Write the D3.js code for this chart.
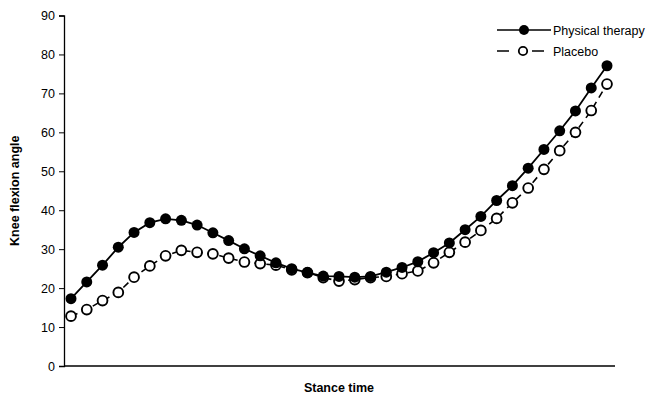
<!DOCTYPE html>
<html>
<head>
<meta charset="utf-8">
<script src="https://cdn.jsdelivr.net/npm/d3@7"></script>
<style>
  html, body { margin: 0; padding: 0; background: #fff; }
  svg { display: block; font-family: "Liberation Sans", Arial, sans-serif; }
</style>
</head>
<body>
<svg id="chart" width="649" height="396"></svg>
<script>
// ---- data ----
const stanceIndex = d3.range(35);
const physicalTherapy = [17.3, 21.6, 25.9, 30.5, 34.3, 36.8, 37.8, 37.4, 36.2, 34.2,
  32.2, 30.1, 28.3, 26.5, 25.0, 24.0, 23.1, 23.0, 22.8, 23.0,
  24.1, 25.3, 26.8, 29.1, 31.6, 35.0, 38.4, 42.5, 46.3, 50.8,
  55.6, 60.4, 65.5, 71.4, 77.1];
const placebo = [12.8, 14.5, 16.8, 18.9, 22.8, 25.7, 28.3, 29.7, 29.2, 28.8,
  27.7, 26.7, 26.3, 25.9, 24.7, 24.0, 22.7, 21.8, 22.2, 22.7,
  23.0, 23.7, 24.4, 26.5, 29.2, 31.8, 34.8, 37.9, 41.9, 45.7,
  50.5, 55.3, 60.0, 65.6, 72.4];
const yTicks = [0, 10, 20, 30, 40, 50, 60, 70, 80, 90];
const seriesNames = ["Physical therapy", "Placebo"];
const xTitle = "Stance time";
const yTitle = "Knee flexion angle";

// ---- layout ----
const svg = d3.select("#chart");
const axisLeftX = 64, axisRightX = 615, axisBottomY = 366, axisTopY = 15.5;

const x = d3.scaleLinear().domain([0, 34]).range([71, 607]);
const y = d3.scaleLinear().domain([0, 90]).range([axisBottomY, axisTopY]);

// y axis
const yAxis = svg.append("g")
  .attr("transform", `translate(${axisLeftX},0)`)
  .call(d3.axisLeft(y).tickValues(yTicks).tickSize(5).tickPadding(4).tickFormat(d3.format("d")));
yAxis.select(".domain").attr("stroke", "#000").attr("stroke-width", 1.3);
yAxis.selectAll(".tick line").attr("stroke", "#000").attr("stroke-width", 1);
yAxis.selectAll(".tick text").attr("fill", "#000").attr("font-size", 12.5)
  .attr("font-family", "Liberation Sans, Arial, sans-serif");

// x axis line
svg.append("line")
  .attr("x1", axisLeftX).attr("x2", axisRightX)
  .attr("y1", axisBottomY).attr("y2", axisBottomY)
  .attr("stroke", "#000").attr("stroke-width", 1.5);

// titles
svg.append("text")
  .attr("x", 339).attr("y", 392)
  .attr("text-anchor", "middle")
  .attr("font-weight", "bold").attr("font-size", 12.5)
  .text(xTitle);
svg.append("text")
  .attr("transform", `translate(19,${(axisTopY + axisBottomY) / 2}) rotate(-90)`)
  .attr("text-anchor", "middle")
  .attr("font-weight", "bold").attr("font-size", 12.5)
  .text(yTitle);

const line = d3.line().x((d, i) => x(stanceIndex[i])).y(d => y(d));

// placebo (dashed, open circles)
svg.append("path")
  .datum(placebo)
  .attr("d", line)
  .attr("fill", "none").attr("stroke", "#000").attr("stroke-width", 1.6)
  .attr("stroke-dasharray", "7,5");

// physical therapy (solid, filled circles)
svg.append("path")
  .datum(physicalTherapy)
  .attr("d", line)
  .attr("fill", "none").attr("stroke", "#000").attr("stroke-width", 1.8);

svg.append("g").selectAll("circle")
  .data(placebo)
  .join("circle")
  .attr("cx", (d, i) => x(stanceIndex[i]))
  .attr("cy", d => y(d))
  .attr("r", 4.9)
  .attr("fill", "#fff").attr("stroke", "#000").attr("stroke-width", 1.9);

svg.append("g").selectAll("circle")
  .data(physicalTherapy)
  .join("circle")
  .attr("cx", (d, i) => x(stanceIndex[i]))
  .attr("cy", d => y(d))
  .attr("r", 5.5)
  .attr("fill", "#000");

// legend
const lg = svg.append("g");
lg.append("line").attr("x1", 497).attr("x2", 551).attr("y1", 30).attr("y2", 30)
  .attr("stroke", "#000").attr("stroke-width", 1.5);
lg.append("circle").attr("cx", 524).attr("cy", 30).attr("r", 5).attr("fill", "#000");
lg.append("text").attr("x", 553).attr("y", 34.5).attr("font-size", 12.5).text(seriesNames[0]);

lg.append("line").attr("x1", 497).attr("x2", 545).attr("y1", 51).attr("y2", 51)
  .attr("stroke", "#000").attr("stroke-width", 1.6).attr("stroke-dasharray", "12,23");
lg.append("circle").attr("cx", 523).attr("cy", 51).attr("r", 4.2)
  .attr("fill", "#fff").attr("stroke", "#000").attr("stroke-width", 1.8);
lg.append("text").attr("x", 553).attr("y", 55.5).attr("font-size", 12.5).text(seriesNames[1]);
</script>
</body>
</html>
